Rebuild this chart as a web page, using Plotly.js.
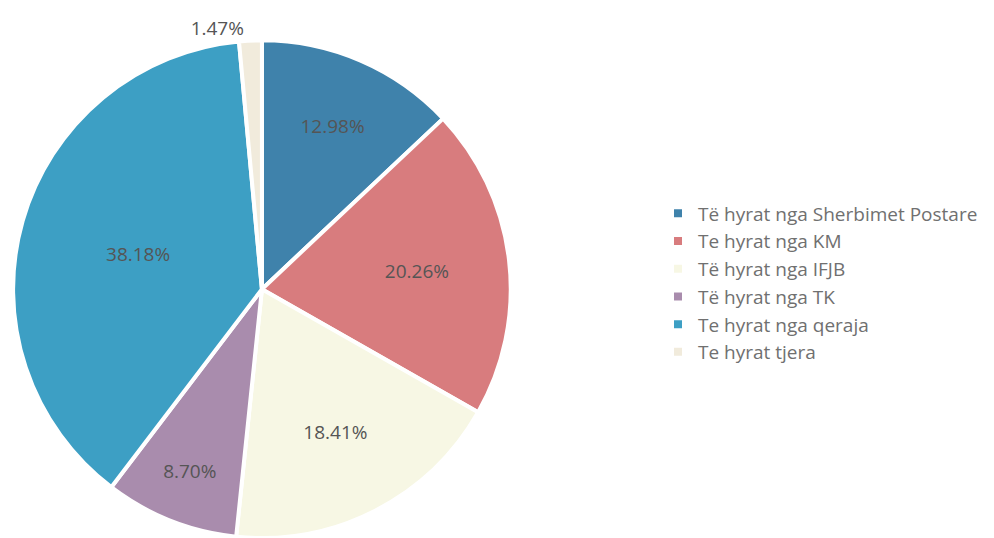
<!DOCTYPE html>
<html>
<head>
<meta charset="utf-8">
<script src="https://cdn.plot.ly/plotly-3.0.1.min.js"></script>
<style>
  html, body { margin: 0; padding: 0; background: #fff; }
  #chart { width: 994px; height: 538px; }
</style>
</head>
<body>
<div id="chart"></div>
<script>
// Income shares (percent), clockwise from 12 o'clock
const labels = [
    'Të hyrat nga Sherbimet Postare',
    'Te hyrat nga KM',
    'Të hyrat nga IFJB',
    'Të hyrat nga TK',
    'Te hyrat nga qeraja',
    'Te hyrat tjera'
];
const shares = [12.98, 20.26, 18.41, 8.70, 38.18, 1.47];
const colors = ['#3f82ab', '#d87c7e', '#f7f7e4', '#a98cad', '#3d9fc4', '#f1ebdc'];

const trace = {
    type: 'pie',
    labels: labels,
    values: shares,
    sort: false,
    direction: 'clockwise',
    rotation: 0,
    texttemplate: '%{value:.2f}%',
    textposition: ['inside', 'inside', 'inside', 'inside', 'inside', 'outside'],
    insidetextorientation: 'horizontal',
    textfont: { family: 'Open Sans, sans-serif', size: 19, color: '#555555' },
    outsidetextfont: { family: 'Open Sans, sans-serif', size: 19, color: '#555555' },
    marker: { colors: colors, line: { color: '#ffffff', width: 4 } },
    hoverinfo: 'label+percent',
    domain: { x: [0.012, 0.515], y: [0, 0.925] }
};

const layout = {
    width: 994,
    height: 538,
    margin: { t: 0, b: 0, l: 0, r: 0 },
    paper_bgcolor: '#ffffff',
    showlegend: true,
    legend: {
        x: 0.662,
        y: 0.474,
        xanchor: 'left',
        yanchor: 'middle',
        font: { family: 'Open Sans, sans-serif', size: 19, color: '#707070' },
        itemwidth: 30,
        tracegroupgap: 0
    }
};

Plotly.newPlot('chart', [trace], layout, { displayModeBar: false, staticPlot: true });
</script>
</body>
</html>
